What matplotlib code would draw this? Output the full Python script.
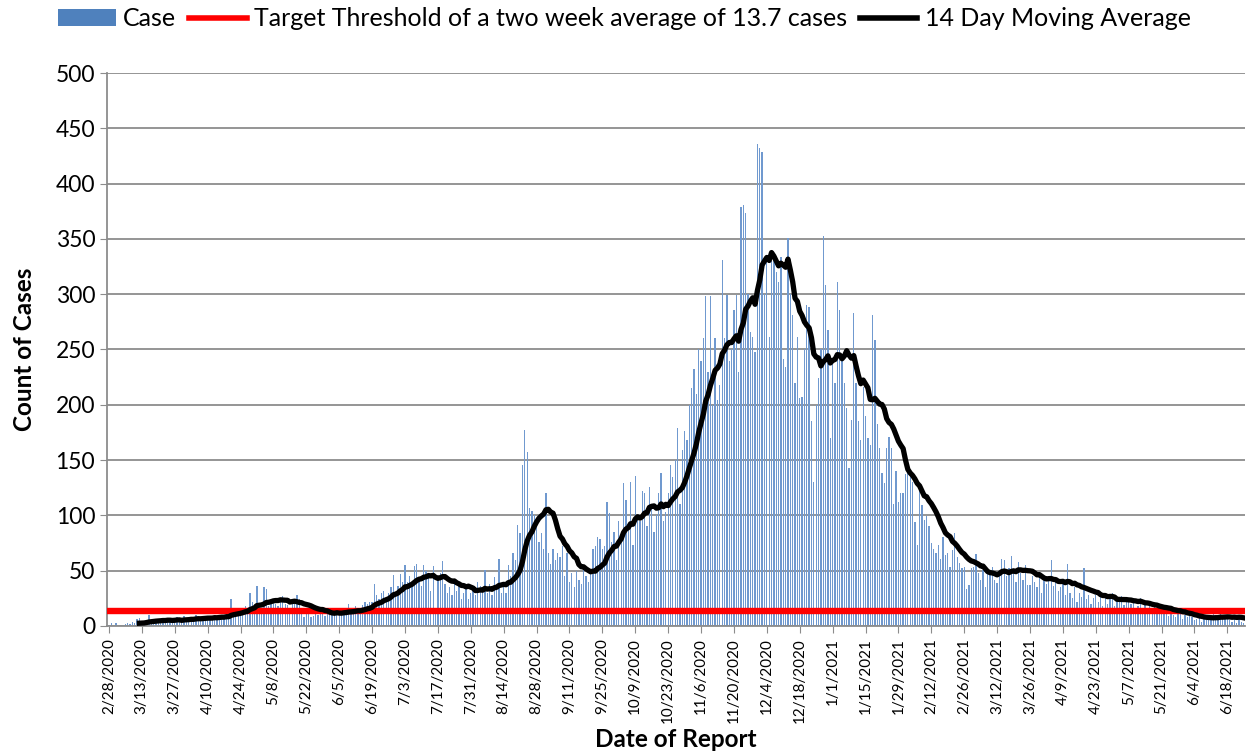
import pandas as pd
import matplotlib
matplotlib.use("Agg")
import matplotlib.pyplot as plt
from matplotlib.patches import Patch
from matplotlib.lines import Line2D

plt.rcParams['font.family'] = ['Lato', 'DejaVu Sans']

start_date = '2020-02-28'
threshold = 13.7
window = 14

# daily case counts, one row per two weeks starting 2/28/2020
cases = [
    1, 3, 0, 3, 0, 0, 1, 2, 3, 2, 4, 3, 6, 7,
    3, 4, 5, 10, 4, 5, 3, 4, 6, 5, 4, 7, 6, 4,
    5, 8, 6, 4, 9, 7, 5, 8, 6, 10, 7, 6, 9, 8,
    6, 8, 7, 9, 8, 10, 9, 8, 12, 10, 24, 14, 15, 14,
    12, 16, 18, 15, 30, 22, 20, 36, 16, 15, 35, 33, 18, 22,
    22, 20, 18, 24, 27, 20, 19, 14, 22, 20, 28, 24, 14, 8,
    15, 12, 8, 9, 14, 10, 11, 13, 9, 16, 12, 14, 10, 15,
    10, 11, 13, 12, 20, 12, 14, 18, 15, 16, 19, 22, 20, 22,
    22, 38, 28, 24, 30, 32, 26, 30, 35, 46, 28, 36, 47, 40,
    55, 40, 45, 38, 54, 56, 42, 36, 55, 50, 44, 32, 54, 15,
    42, 48, 59, 38, 30, 35, 28, 40, 32, 36, 24, 30, 38, 24,
    30, 35, 28, 40, 36, 32, 51, 30, 38, 28, 44, 36, 61, 30,
    38, 30, 55, 45, 66, 60, 91, 84, 146, 177, 157, 107, 104, 100,
    95, 76, 84, 70, 120, 66, 56, 70, 60, 66, 62, 72, 45, 66,
    40, 48, 35, 50, 42, 38, 55, 45, 40, 48, 70, 72, 80, 79,
    70, 72, 112, 102, 76, 85, 60, 95, 80, 129, 114, 90, 130, 73,
    136, 100, 95, 122, 120, 90, 126, 110, 85, 100, 120, 138, 95, 103,
    120, 146, 135, 150, 179, 110, 159, 176, 168, 200, 215, 232, 210, 250,
    240, 260, 298, 230, 298, 200, 260, 204, 218, 331, 260, 299, 240, 250,
    286, 299, 230, 379, 381, 373, 300, 266, 261, 248, 436, 432, 429, 300,
    331, 261, 330, 334, 320, 311, 334, 241, 234, 351, 300, 281, 220, 261,
    206, 207, 250, 290, 288, 185, 130, 200, 224, 250, 353, 308, 268, 170,
    238, 220, 311, 286, 240, 220, 197, 143, 186, 283, 220, 185, 168, 216,
    190, 170, 164, 281, 259, 183, 161, 138, 129, 161, 171, 161, 110, 140,
    112, 120, 120, 137, 140, 137, 130, 94, 73, 129, 109, 96, 99, 90,
    75, 70, 66, 73, 61, 80, 64, 66, 53, 69, 84, 62, 57, 52,
    53, 33, 37, 52, 53, 65, 48, 42, 51, 35, 48, 49, 53, 42,
    39, 50, 61, 60, 45, 52, 63, 50, 40, 58, 48, 42, 55, 37,
    37, 45, 40, 35, 48, 30, 42, 38, 44, 60, 36, 40, 32, 35,
    40, 28, 56, 30, 25, 35, 22, 30, 26, 52, 24, 28, 20, 25,
    28, 22, 30, 18, 26, 20, 25, 30, 18, 24, 22, 27, 19, 25,
    24, 20, 22, 15, 18, 25, 14, 20, 16, 18, 12, 20, 15, 14,
    16, 12, 18, 9, 14, 10, 8, 12, 14, 6, 10, 8, 9, 8,
    5, 6, 8, 4, 7, 5, 6, 9, 12, 8, 10, 14, 9, 10,
    7, 5, 4, 6, 3, 8, 4, 3,
]

dates = pd.date_range(start_date, periods=len(cases), freq='D')
df = pd.DataFrame({'date': dates, 'cases': cases})
df['ma'] = df['cases'].rolling(window).mean()
x = range(len(df))

fig = plt.figure(figsize=(12.49, 7.52), dpi=100)
ax = fig.add_axes([0.0857, 0.1676, 0.9111, 0.7353])

ax.bar(x, df['cases'], width=0.55, color='#7099cf', edgecolor='none', zorder=2)
ax.axhline(threshold, color='#ff0000', linewidth=4.6, zorder=3)
ax.plot(x, df['ma'], color='black', linewidth=3.8, zorder=4)

ax.set_xlim(-0.8, len(df) - 0.5)
ax.set_ylim(0, 500)
ax.set_yticks(range(0, 501, 50))
ax.grid(axis='y', color='#8c8c8c', linewidth=1.3, zorder=0)
ax.set_axisbelow(True)

tick_idx = list(range(0, len(df), 14))
ax.set_xticks(tick_idx)
ax.set_xticklabels(['{}/{}/{}'.format(d.month, d.day, d.year) for d in df['date'].iloc[tick_idx]],
                   rotation=90, fontsize=11)
ax.tick_params(axis='y', labelsize=16.5, length=5, color='#8c8c8c')
ax.tick_params(axis='x', length=5, color='#8c8c8c')

for s in ['top', 'right']:
    ax.spines[s].set_visible(False)
for s in ['left', 'bottom']:
    ax.spines[s].set_color('#8c8c8c')
    ax.spines[s].set_linewidth(1.3)

ax.set_ylabel('Count of Cases', fontsize=17.5, fontweight='bold', labelpad=14)
ax.set_xlabel('Date of Report', fontsize=17.5, fontweight='bold', labelpad=4)

handles = [Patch(facecolor='#4f81bd'),
           Line2D([0], [0], color='#ff0000', linewidth=4),
           Line2D([0], [0], color='black', linewidth=4)]
labels = ['Case', 'Target Threshold of a two week average of 13.7 cases', '14 Day Moving Average']
fig.legend(handles, labels, loc='upper center', bbox_to_anchor=(0.5, 1.02), ncol=3, frameon=False,
           fontsize=18, handlelength=2.3, columnspacing=0.5, handletextpad=0.3)

fig.savefig('out.png', dpi=100)
